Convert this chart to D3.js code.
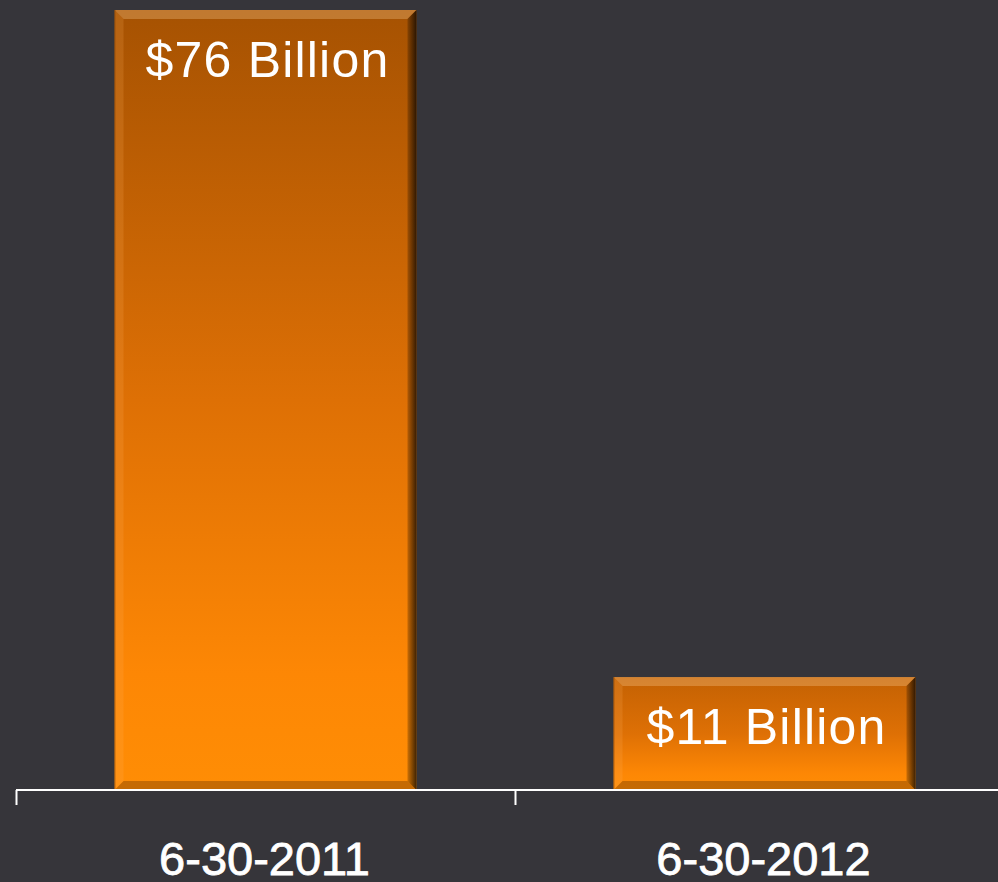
<!DOCTYPE html>
<html>
<head>
<meta charset="utf-8">
<script src="https://cdn.jsdelivr.net/npm/d3@7"></script>
<style>
  html, body { margin: 0; padding: 0; background: #36353a; }
  svg { display: block; }
  text { font-family: "Liberation Sans", Arial, sans-serif; }
</style>
</head>
<body>
<svg id="chart" width="998" height="882"></svg>
<script>
// Balance at each date, in billions of dollars
const categories = ["6-30-2011", "6-30-2012"];
const values = [76, 11];
const valueLabels = ["$76 Billion", "$11 Billion"];

const W = 998, H = 882;
const svg = d3.select("#chart");

svg.append("rect").attr("width", W).attr("height", H).attr("fill", "#36353a");

const x = d3.scaleBand()
  .domain(categories)
  .range([16, 1014])
  .paddingInner(0.395)
  .paddingOuter(0.1975);

const y = d3.scaleLinear().domain([0, 76]).range([790, 10]);

const defs = svg.append("defs");

const rightGrad = defs.append("linearGradient")
  .attr("id", "rightBevel").attr("x1", 0).attr("y1", 0).attr("x2", 1).attr("y2", 0);
rightGrad.append("stop").attr("offset", "0%").attr("stop-color", "#000").attr("stop-opacity", 0.2);
rightGrad.append("stop").attr("offset", "100%").attr("stop-color", "#000").attr("stop-opacity", 0.75);

const data = categories.map((c, i) => ({ cat: c, value: values[i], label: valueLabels[i], i }));
const bev = 9;
const maxH = y(0) - y(d3.max(values));
// shorter bars start their shading from a lighter tone
const topTone = d3.interpolateRgb("#c86403", "#a65202");

const bars = svg.append("g").selectAll("g").data(data).join("g");

bars.each(function (d) {
  const g = d3.select(this);
  const x0 = x(d.cat), x1 = x0 + x.bandwidth();
  const y0 = y(d.value), y1 = y(0);
  const gid = "barFill" + d.i;
  const grad = defs.append("linearGradient")
    .attr("id", gid).attr("x1", 0).attr("y1", 0).attr("x2", 0).attr("y2", 1);
  grad.append("stop").attr("offset", "0%").attr("stop-color", topTone((y1 - y0) / maxH));
  grad.append("stop").attr("offset", "50%").attr("stop-color", "#de7005");
  grad.append("stop").attr("offset", "85%").attr("stop-color", "#fd8705");
  grad.append("stop").attr("offset", "100%").attr("stop-color", "#ff8d05");

  g.append("rect")
    .attr("x", x0).attr("y", y0)
    .attr("width", x1 - x0).attr("height", y1 - y0)
    .attr("fill", `url(#${gid})`);
  const poly = (pts) => pts.map(p => p.join(",")).join(" ");
  // top highlight
  g.append("polygon")
    .attr("points", poly([[x0, y0], [x1, y0], [x1 - bev, y0 + bev], [x0 + bev, y0 + bev]]))
    .attr("fill", "#ffd59a").attr("fill-opacity", 0.3);
  // left face
  g.append("polygon")
    .attr("points", poly([[x0, y0], [x0 + bev, y0 + bev], [x0 + bev, y1 - bev], [x0, y1]]))
    .attr("fill", "#ffb060").attr("fill-opacity", 0.18);
  // right shadow
  g.append("polygon")
    .attr("points", poly([[x1, y0], [x1, y1], [x1 - bev, y1 - bev], [x1 - bev, y0 + bev]]))
    .attr("fill", "url(#rightBevel)");
  // bottom shadow
  g.append("polygon")
    .attr("points", poly([[x0, y1], [x1, y1], [x1 - bev, y1 - bev], [x0 + bev, y1 - bev]]))
    .attr("fill", "#5a2a00").attr("fill-opacity", 0.35);
  // outer edge line on the left
  g.append("line")
    .attr("x1", x0 + 0.5).attr("x2", x0 + 0.5).attr("y1", y0).attr("y2", y1)
    .attr("stroke", "#8a4400").attr("stroke-opacity", 0.5);
});

bars.append("text")
  .attr("x", d => x(d.cat) + x.bandwidth() / 2 + 2)
  .attr("y", d => y(d.value) + 67)
  .attr("text-anchor", "middle")
  .attr("fill", "#ffffff")
  .attr("font-size", 50)
  .attr("letter-spacing", 1.2)
  .text(d => d.label);

// category axis: line, ticks at band boundaries, labels at band centres
const axis = svg.append("g");
const r = x.range();
axis.append("line")
  .attr("x1", r[0]).attr("x2", r[1]).attr("y1", 790).attr("y2", 790)
  .attr("stroke", "#ffffff").attr("stroke-width", 2);
const bounds = d3.range(categories.length + 1).map(i => r[0] + i * x.step());
axis.selectAll(".tick").data(bounds).join("line")
  .attr("class", "tick")
  .attr("x1", d => d + 0.5).attr("x2", d => d + 0.5)
  .attr("y1", 790).attr("y2", 805)
  .attr("stroke", "#ffffff").attr("stroke-width", 2);
axis.selectAll(".cat").data(categories).join("text")
  .attr("class", "cat")
  .attr("x", d => x(d) + x.bandwidth() / 2 - 1)
  .attr("y", 875)
  .attr("text-anchor", "middle")
  .attr("fill", "#ffffff")
  .attr("stroke", "#ffffff").attr("stroke-width", 0.8)
  .attr("font-size", 47)
  .text(d => d);
</script>
</body>
</html>
